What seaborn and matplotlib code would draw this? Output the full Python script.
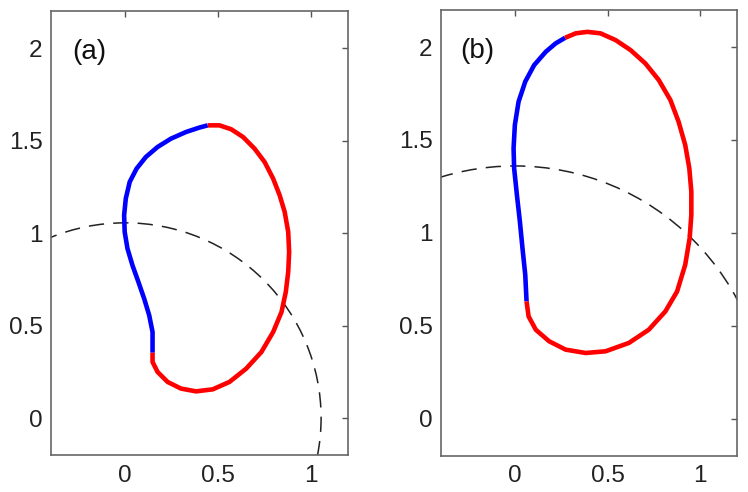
import matplotlib
matplotlib.use("Agg")
import matplotlib.pyplot as plt
from matplotlib.patches import Circle
import seaborn as sns

# panel (a): blue part, bottom junction -> top junction
a_blue_x = [0.148, 0.148, 0.130, 0.103, 0.072, 0.040, 0.013, -0.002, -0.005, 0.004, 0.025, 0.062, 0.112, 0.175,
            0.247, 0.328, 0.400, 0.445]
a_blue_y = [0.353, 0.465, 0.555, 0.645, 0.735, 0.825, 0.916, 1.006, 1.096, 1.186, 1.276, 1.348, 1.411, 1.465,
            1.510, 1.546, 1.570, 1.582]
# panel (a): red part, top junction -> bottom junction
a_red_x = [0.445, 0.508, 0.571, 0.635, 0.697, 0.751, 0.797, 0.832, 0.859, 0.878, 0.883, 0.878, 0.865, 0.842, 0.797,
           0.734, 0.652, 0.562, 0.472, 0.382, 0.301, 0.229, 0.175, 0.148, 0.148]
a_red_y = [1.582, 1.582, 1.561, 1.519, 1.456, 1.384, 1.294, 1.204, 1.114, 1.006, 0.897, 0.789, 0.681, 0.573, 0.465,
           0.357, 0.267, 0.195, 0.155, 0.144, 0.159, 0.195, 0.249, 0.303, 0.353]
a_radius = 1.055

# panel (b)
b_blue_x = [0.063, 0.056, 0.041, 0.027, 0.011, -0.004, -0.007, 0.000, 0.020, 0.056, 0.104, 0.167, 0.220, 0.271]
b_blue_y = [0.631, 0.774, 0.918, 1.061, 1.204, 1.348, 1.455, 1.581, 1.706, 1.814, 1.903, 1.975, 2.020, 2.050]
b_red_x = [0.271, 0.328, 0.391, 0.462, 0.543, 0.624, 0.704, 0.776, 0.839, 0.883, 0.919, 0.941, 0.952, 0.952, 0.943,
           0.919, 0.875, 0.812, 0.722, 0.615, 0.489, 0.382, 0.274, 0.185, 0.113, 0.074, 0.063]
b_red_y = [2.050, 2.074, 2.082, 2.074, 2.038, 1.984, 1.912, 1.823, 1.715, 1.599, 1.473, 1.348, 1.222, 1.097, 0.971,
           0.828, 0.684, 0.577, 0.478, 0.407, 0.362, 0.353, 0.371, 0.416, 0.478, 0.550, 0.631]
b_radius = 1.36

x_ticks = [0, 0.5, 1]
y_ticks = [0, 0.5, 1, 1.5, 2]

sns.set_style("white")
plt.rcParams["font.family"] = ["Liberation Sans", "DejaVu Sans"]

fig = plt.figure(figsize=(7.48, 4.92), dpi=100)
ax_a = fig.add_axes([0.0678, 0.0752, 0.3975, 0.9024])
ax_b = fig.add_axes([0.5892, 0.0738, 0.3965, 0.9060])

panels = [
    (ax_a, a_blue_x, a_blue_y, a_red_x, a_red_y, a_radius, "(a)", 0.071),
    (ax_b, b_blue_x, b_blue_y, b_red_x, b_red_y, b_radius, "(b)", 0.065),
]

for ax, bx, by, rx, ry, radius, tag, tag_x in panels:
    ax.add_patch(Circle((0, 0), radius, fill=False, edgecolor="#222222", lw=1.1,
                        linestyle=(0, (10, 6))))
    sns.lineplot(x=bx, y=by, sort=False, estimator=None, color="#0000ff", lw=3.3,
                 ax=ax, solid_capstyle="butt", solid_joinstyle="round")
    sns.lineplot(x=rx, y=ry, sort=False, estimator=None, color="#ff0000", lw=3.3,
                 ax=ax, solid_capstyle="butt", solid_joinstyle="round")
    ax.set_xlim(-0.4, 1.2)
    ax.set_ylim(-0.2, 2.2)
    ax.set_xticks(x_ticks)
    ax.set_xticklabels(["0", "0.5", "1"])
    ax.set_yticks(y_ticks)
    ax.set_yticklabels(["0", "0.5", "1", "1.5", "2"])
    ax.tick_params(direction="in", length=4, width=1, color="#555555",
                   top=True, right=True, labelsize=17.5, labelcolor="#222222")
    ax.tick_params(axis="x", pad=7)
    ax.tick_params(axis="y", pad=6)
    for sp in ax.spines.values():
        sp.set_color("#666666")
        sp.set_linewidth(1.2)
    ax.text(tag_x, 0.907, tag, transform=ax.transAxes, fontsize=20,
            va="center", ha="left", color="#111111")
    ax.set_xlabel("")
    ax.set_ylabel("")

fig.savefig("out.png", dpi=100)
